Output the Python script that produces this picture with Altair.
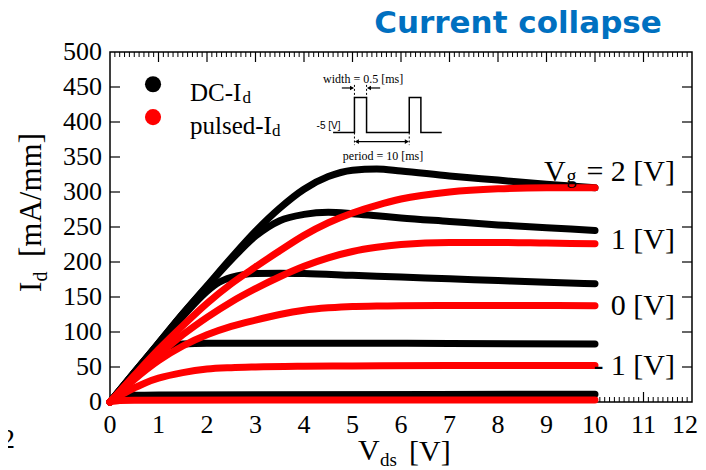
import altair as alt
import pandas as pd

W, H = 582, 350

# ---------------- data: I_d [mA/mm] vs V_ds [V] ----------------
vds_a = [0, 0.5, 1, 1.5, 2, 2.5, 3, 3.5, 4, 4.5, 5, 5.5, 6, 7, 8, 9, 10]

dc_vg2 = [0, 42, 84, 126, 166, 206, 244, 277, 304, 322, 331, 333, 330, 323, 317, 311, 306]
dc_vg1 = [0, 42, 84, 126, 165, 203, 237, 259, 268, 271, 269, 266, 263, 258, 253, 249, 245]

dc_vg0_v = [0, 0.5, 1, 1.5, 1.75, 2, 2.25, 2.5, 2.75, 3, 3.5, 4, 5, 6, 7, 8, 9, 10]
dc_vg0 = [0, 42, 83, 122, 141, 158, 171, 178, 182, 183.5, 184, 183.5, 181, 178.5, 176, 173.5, 171, 169]

dc_vgm1_v = [0, 0.5, 0.75, 1, 1.25, 1.5, 2, 3, 5, 7, 10]
dc_vgm1 = [0, 41, 60, 74, 80.5, 83, 84, 84, 84, 83.5, 83]

dc_vgm2_v = [0, 0.1, 0.25, 0.5, 1, 3, 10]
dc_vgm2 = [0, 5, 8.5, 9.5, 10, 10.5, 11]

pu_vg2 = [0, 38, 75, 109, 141, 169, 193, 216, 238, 256, 270, 281, 290, 300, 304.5, 306, 306]
pu_vg1 = [0, 35, 67, 96, 121, 143, 162, 179, 194, 206, 215, 221, 225, 228, 228, 227, 226]
pu_vg0 = [0, 32, 59, 80, 96, 108, 117, 125, 131, 134.5, 136.5, 137, 137.5, 138, 138, 138, 137.5]

pu_vgm1_v = [0, 0.25, 0.5, 0.75, 1, 1.5, 2, 2.5, 3, 4, 5, 7, 10]
pu_vgm1 = [0, 11, 20, 28, 34, 42, 47, 49, 50, 51, 51.5, 52, 52]

pu_vgm2_v = [0, 0.2, 0.5, 10]
pu_vgm2 = [0, 2, 2.5, 3]

x_major = list(range(0, 13))
y_major = list(range(0, 501, 50))
x_minor = [round(i / 10, 1) for i in range(1, 120) if i % 10]

# inset: gate pulse schematic (drawn in the main chart's units)
pulse_v = [4.60, 5.04, 5.04, 5.29, 5.29, 6.17, 6.17, 6.41, 6.41, 6.84]
pulse_i = [385, 385, 435, 435, 385, 385, 435, 435, 385, 385]


def curve_df(name, vs, ids):
    return pd.DataFrame({"curve": name, "V": vs, "I": ids, "k": list(range(len(vs)))})


df_dc = pd.concat([
    curve_df("dc2", vds_a, dc_vg2),
    curve_df("dc1", vds_a, dc_vg1),
    curve_df("dc0", dc_vg0_v, dc_vg0),
    curve_df("dcm1", dc_vgm1_v, dc_vgm1),
    curve_df("dcm2", dc_vgm2_v, dc_vgm2),
])
df_pu = pd.concat([
    curve_df("pu2", vds_a, pu_vg2),
    curve_df("pu1", vds_a, pu_vg1),
    curve_df("pu0", vds_a, pu_vg0),
    curve_df("pum1", pu_vgm1_v, pu_vgm1),
    curve_df("pum2", pu_vgm2_v, pu_vgm2),
])

xs = alt.Scale(domain=[0, 12], nice=False, zero=False)
ys = alt.Scale(domain=[0, 500], nice=False, zero=False)
SERIF = "Liberation Serif"


def X(field):
    return alt.X(field, scale=xs, axis=None)


def Y(field):
    return alt.Y(field, scale=ys, axis=None)


# ---------------- ticks (inward) and tick labels ----------------
tick_style = dict(color="black", strokeWidth=1.2)
xt_major = pd.DataFrame({"t": x_major[1:-1]})
xt_minor = pd.DataFrame({"t": x_minor})
yt_major = pd.DataFrame({"t": y_major[1:-1]})

ticks = [
    alt.Chart(xt_major).mark_rule(**tick_style).encode(x=X("t:Q"), y=alt.value(H), y2=alt.value(H - 10)),
    alt.Chart(xt_major).mark_rule(**tick_style).encode(x=X("t:Q"), y=alt.value(0), y2=alt.value(10)),
    alt.Chart(xt_minor).mark_rule(color="black", strokeWidth=1).encode(x=X("t:Q"), y=alt.value(H), y2=alt.value(H - 5)),
    alt.Chart(xt_minor).mark_rule(color="black", strokeWidth=1).encode(x=X("t:Q"), y=alt.value(0), y2=alt.value(5)),
    alt.Chart(yt_major).mark_rule(**tick_style).encode(y=Y("t:Q"), x=alt.value(0), x2=alt.value(10)),
    alt.Chart(yt_major).mark_rule(**tick_style).encode(y=Y("t:Q"), x=alt.value(W), x2=alt.value(W - 10)),
]

xl = pd.DataFrame({"t": x_major[:-1], "s": [str(v) for v in x_major[:-1]]})
yl = pd.DataFrame({"t": y_major, "s": [str(v) for v in y_major]})
tick_labels = [
    alt.Chart(xl).mark_text(font=SERIF, fontSize=26, color="black", align="center", baseline="alphabetic").encode(
        x=X("t:Q"), y=alt.value(H + 31), text="s:N"),
    # last label kept inside the page edge
    alt.Chart(pd.DataFrame({"s": [str(x_major[-1])]})).mark_text(
        font=SERIF, fontSize=26, color="black", align="right", baseline="alphabetic").encode(
        x=alt.value(W + 6), y=alt.value(H + 31), text="s:N"),
    alt.Chart(yl).mark_text(font=SERIF, fontSize=26, color="black", align="right", baseline="middle").encode(
        y=Y("t:Q"), x=alt.value(-8), text="s:N"),
]

# ---------------- inset ----------------
df_pulse = pd.DataFrame({"V": pulse_v, "I": pulse_i, "k": list(range(len(pulse_v)))})
inset_line = alt.Chart(df_pulse).mark_line(color="black", strokeWidth=1.5, interpolate="linear").encode(
    x=X("V:Q"), y=Y("I:Q"), order="k:Q")

df_dots = pd.DataFrame({"V": [5.04, 5.29, 5.04, 6.17], "I": [453, 453, 385, 385], "I2": [435, 435, 367, 367]})
inset_dots = alt.Chart(df_dots).mark_rule(color="black", strokeWidth=1, strokeDash=[2, 2]).encode(
    x=X("V:Q"), y=Y("I:Q"), y2="I2:Q")

df_shafts = pd.DataFrame({"V": [4.78, 5.34, 5.08], "V2": [5.0, 5.57, 6.13], "I": [448.6, 448.6, 372]})
inset_shafts = alt.Chart(df_shafts).mark_rule(color="black", strokeWidth=1.2).encode(
    x=X("V:Q"), x2="V2:Q", y=Y("I:Q"))

df_heads = pd.DataFrame({"V": [4.99, 5.34, 5.09, 6.12], "I": [448.6, 448.6, 372, 372],
                         "s": ["triangle-right", "triangle-left", "triangle-left", "triangle-right"]})
inset_heads = alt.Chart(df_heads).mark_point(filled=True, color="black", size=22, opacity=1).encode(
    x=X("V:Q"), y=Y("I:Q"), shape=alt.Shape("s:N", scale=None))

df_itext = pd.DataFrame({"V": [5.22, 5.63], "I": [462, 351.5], "t": ["width = 0.5 [ms]", "period = 10 [ms]"]})
inset_text = alt.Chart(df_itext).mark_text(font=SERIF, fontSize=12, color="black", align="center").encode(
    x=X("V:Q"), y=Y("I:Q"), text="t:N")
inset_v = alt.Chart(pd.DataFrame({"V": [4.26], "I": [394], "t": ["-5 [V]"]})).mark_text(
    font="Liberation Sans", fontSize=10, color="black", align="left").encode(x=X("V:Q"), y=Y("I:Q"), text="t:N")

# ---------------- curves ----------------
line_style = dict(strokeWidth=7, strokeCap="round", strokeJoin="round", interpolate="monotone")
dc_layer = alt.Chart(df_dc).mark_line(color="black", **line_style).encode(
    x=X("V:Q"), y=Y("I:Q"), detail="curve:N", order="k:Q")
pu_layer = alt.Chart(df_pu).mark_line(color="#ff0000", **line_style).encode(
    x=X("V:Q"), y=Y("I:Q"), detail="curve:N", order="k:Q")

# ---------------- legend ----------------
df_leg = pd.DataFrame({"V": [0.887, 0.887], "I": [454, 407], "c": ["black", "#ff0000"]})
leg_pts = alt.Chart(df_leg).mark_point(filled=True, size=260, opacity=1).encode(
    x=X("V:Q"), y=Y("I:Q"), color=alt.Color("c:N", scale=None))
df_legt = pd.DataFrame({"V": [1.65, 1.65], "I": [442, 394.5], "t": ["DC-I", "pulsed-I"]})
leg_txt = alt.Chart(df_legt).mark_text(font=SERIF, fontSize=25, color="black", align="left").encode(
    x=X("V:Q"), y=Y("I:Q"), text="t:N")
df_legs = pd.DataFrame({"V": [2.73, 3.34], "I": [434, 387], "t": ["d", "d"]})
leg_sub = alt.Chart(df_legs).mark_text(font=SERIF, fontSize=17, color="black", align="left").encode(
    x=X("V:Q"), y=Y("I:Q"), text="t:N")

# ---------------- Vg labels ----------------
df_vg = pd.DataFrame({"V": [11.65, 11.65, 11.65, 11.65], "I": [329, 231.4, 137.1, 51.4],
                      "t": ["= 2 [V]", "1 [V]", "0 [V]", "- 1 [V]"]})
vg_txt = alt.Chart(df_vg).mark_text(font=SERIF, fontSize=30, color="black", align="right").encode(
    x=X("V:Q"), y=Y("I:Q"), text="t:N")
vg_V = alt.Chart(pd.DataFrame({"V": [8.95], "I": [329], "t": ["V"]})).mark_text(
    font=SERIF, fontSize=30, color="black", align="left").encode(x=X("V:Q"), y=Y("I:Q"), text="t:N")
vg_g = alt.Chart(pd.DataFrame({"V": [9.41], "I": [321.5], "t": ["g"]})).mark_text(
    font=SERIF, fontSize=20, color="black", align="left").encode(x=X("V:Q"), y=Y("I:Q"), text="t:N")


# ---------------- titles (outside plot) ----------------
def label(txt, x, y, size, font=SERIF, align="left", angle=0, weight="normal", color="black"):
    return alt.Chart(pd.DataFrame({"t": [txt]})).mark_text(
        font=font, fontSize=size, align=align, angle=angle, fontWeight=weight, color=color,
        baseline="alphabetic").encode(x=alt.value(x), y=alt.value(y), text="t:N")


titles = [
    label("Current collapse", 408, -19, 31, font="DejaVu Sans", align="center", weight="bold", color="#0070C0"),
    label("V", 248, 408, 30),
    label("ds", 270, 413.5, 19),
    label("[V]", 299, 408.5, 30),
    label("I", -69, 240, 31, angle=270),
    label("d", -63, 229.5, 20, angle=270),
    label("[mA/mm]", -69, 205, 31, angle=270),
    label("2", -95, 396, 28, align="right"),
]

chart = alt.layer(
    *ticks, *tick_labels,
    inset_line, inset_dots, inset_shafts, inset_heads, inset_text, inset_v,
    dc_layer, pu_layer,
    leg_pts, leg_txt, leg_sub,
    vg_txt, vg_V, vg_g,
    *titles,
).properties(
    width=W, height=H,
    autosize=alt.AutoSizeParams(type="none"),
    padding={"left": 102, "top": 44, "right": 6, "bottom": 68},
).configure_view(stroke="black", strokeWidth=1.5)

chart.save("out.html", embed_options={"renderer": "svg", "actions": False})
